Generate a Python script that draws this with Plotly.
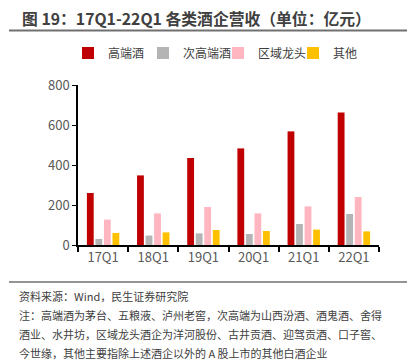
import plotly.graph_objects as go

categories = ["17Q1", "18Q1", "19Q1", "20Q1", "21Q1", "22Q1"]
gaoduan = [260, 348, 435, 483, 568, 663]
cigaoduan = [30, 47, 58, 55, 105, 155]
quyu = [127, 158, 190, 158, 193, 240]
qita = [60, 63, 75, 70, 77, 68]

series = [
    ("高端酒", gaoduan, "#C00000"),
    ("次高端酒", cigaoduan, "#B4B4B4"),
    ("区域龙头", quyu, "#FFB6C1"),
    ("其他", qita, "#FFC000"),
]

FONT = "Noto Sans CJK SC"
O = 8  # page body margin offset
W, H = 415 - O, 363 - O
L, R, T, B = 78 - O, 36, 85 - O, 118
plot_w = W - L - R
plot_h = H - T - B

def py(pix):  # pix in page (reference) coordinates
    return (H - B - (pix - O)) / plot_h

def px(pix):
    return ((pix - O) - L) / plot_w

fig = go.Figure()
for name, vals, col in series:
    fig.add_trace(go.Bar(x=categories, y=vals, name=name, marker=dict(color=col, line=dict(width=0))))

fig.update_layout(
    width=W, height=H,
    margin=dict(l=L, r=R, t=T, b=B, autoexpand=False),
    paper_bgcolor="white", plot_bgcolor="white",
    barmode="group", bargap=0.32, bargroupgap=0.2,
    font=dict(family=FONT, color="#595959", size=13),
    showlegend=True,
    legend=dict(orientation="h", x=px(68), xanchor="left", y=py(53), yanchor="middle",
                font=dict(size=12, color="#404040"), itemwidth=30,
                entrywidthmode="pixels", entrywidth=30,
                bgcolor="rgba(0,0,0,0)"),
    xaxis=dict(showline=True, linecolor="black", linewidth=1.5, ticks="outside",
               tickson="boundaries", ticklen=5, tickcolor="black", tickwidth=1.5,
               tickfont=dict(size=13, color="#595959"), showgrid=False),
    yaxis=dict(range=[0, 800], tickvals=[0, 200, 400, 600, 800], showline=True,
               linecolor="black", linewidth=1.5, ticks="outside", ticklen=4,
               tickcolor="black", showgrid=False, zeroline=False,
               tickfont=dict(size=13, color="#595959")),
)

fig.add_annotation(text="<b>图 19：17Q1-22Q1 各类酒企营收（单位：亿元）</b>", xref="paper", yref="paper",
                   x=px(196.5), y=py(18), showarrow=False, xanchor="center", yanchor="middle",
                   font=dict(size=15.8, color="#404040", family=FONT))

fig.add_shape(type="line", xref="paper", yref="paper", x0=px(9), x1=px(415), y0=py(30.5), y1=py(30.5),
              line=dict(color="#707070", width=2))
fig.add_shape(type="line", xref="paper", yref="paper", x0=px(9), x1=px(415), y0=py(282), y1=py(282),
              line=dict(color="#707070", width=1.5))

notes = [
    "资料来源：Wind，民生证券研究院",
    "注：高端酒为茅台、五粮液、泸州老窖，次高端为山西汾酒、酒鬼酒、舍得",
    "酒业、水井坊，区域龙头酒企为洋河股份、古井贡酒、迎驾贡酒、口子窖、",
    "今世缘，其他主要指除上述酒企以外的 A 股上市的其他白酒企业",
]
for i, t in enumerate(notes):
    fig.add_annotation(text=t, xref="paper", yref="paper", x=px(17), y=py(295.5 + i * 19),
                       showarrow=False, xanchor="left", yanchor="middle",
                       font=dict(size=11, color="#404040", family=FONT))

fig.write_html("out.html")
